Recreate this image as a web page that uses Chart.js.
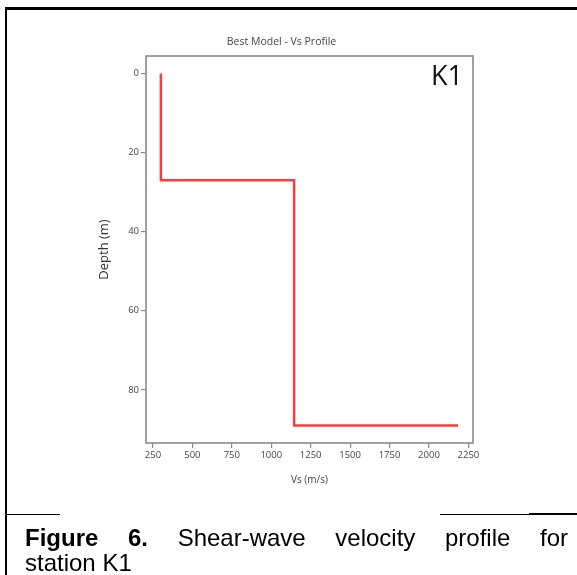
<!DOCTYPE html>
<html>
<head>
<meta charset="utf-8">
<script src="https://cdn.jsdelivr.net/npm/chart.js@4.4.1/dist/chart.umd.min.js"></script>
<style>
  html, body { margin:0; padding:0; background:#fff; }
  #page { position:relative; width:577px; height:575px; background:#fff; overflow:hidden; }
  #plot { position:absolute; left:0; top:0; }
  .rule { position:absolute; background:#000; }
  #k1 { position:absolute; left:431px; top:56px; font:27px "Open Sans", sans-serif; color:#111; }
  #caption { position:absolute; left:25px; top:525px; width:543px;
             font:24px "Liberation Sans", Arial, sans-serif; color:#000; line-height:25px; }
  #caption .l1 { text-align:justify; text-align-last:justify; white-space:nowrap; }
</style>
</head>
<body>
<div id="page">
  <canvas id="plot" width="577" height="500"></canvas>
  <div id="k1">K1</div>

  <!-- frame lines round the figure cell -->
  <div class="rule" style="left:5px;top:7px;width:572px;height:3px"></div>
  <div class="rule" style="left:5px;top:7px;width:2px;height:568px"></div>
  <div class="rule" style="left:5px;top:514px;width:55px;height:1px"></div>
  <div class="rule" style="left:440px;top:514px;width:89px;height:1px"></div>
  <div class="rule" style="left:529px;top:513px;width:48px;height:2px"></div>

  <div id="caption">
    <div class="l1"><b>Figure 6.</b> Shear-wave velocity profile for</div>
    <div>station K1</div>
  </div>
</div>

<script>
/* ── Data: best-fit Vs model, station K1 ── */
const vsProfile    = [300, 300, 1145, 1145, 2185];   // m/s
const depthProfile = [0, 27, 27, 89, 89];            // m
const xTicks = [250, 500, 750, 1000, 1250, 1500, 1750, 2000, 2250];
const yTicks = [0, 20, 40, 60, 80];

const AX = '#8a8a8a', TXT = '#444';
const FONT = '"Open Sans", "DejaVu Sans", sans-serif';

/* box round the axes (matplotlib style) */
const framePlugin = {
  id:'frame',
  afterDraw(chart) {
    const {ctx, chartArea:a} = chart;
    ctx.save();
    ctx.strokeStyle = AX;
    ctx.lineWidth = 1.6;
    ctx.strokeRect(a.left, a.top, a.right - a.left, a.bottom - a.top);
    ctx.restore();
  }
};

new Chart(document.getElementById('plot'), {
  type:'scatter',
  data:{
    datasets:[{
      data: vsProfile.map((v,i)=>({x:v, y:depthProfile[i]})),
      showLine:true,
      borderColor:'#ff3b3b',
      borderWidth:2.5,
      pointRadius:0,
      tension:0
    }]
  },
  options:{
    responsive:false,
    animation:false,
    layout:{ padding:{ left:90, right:104, top:28, bottom:0 } },
    plugins:{
      legend:{ display:false },
      tooltip:{ enabled:false },
      title:{ display:true, text:'Best Model - Vs Profile', color:TXT,
              font:{ family:FONT, size:10.5, weight:'normal' }, padding:{ top:8, bottom:7.4 } }
    },
    scales:{
      x:{
        type:'linear', min:205.75, max:2279.25,
        afterBuildTicks: s => { s.ticks = xTicks.map(v=>({value:v})); },
        afterFit: s => { s.height = 57; },
        border:{ display:false },
        grid:{ drawOnChartArea:false, drawTicks:true, tickLength:5, color:AX, lineWidth:1.2 },
        ticks:{ color:TXT, font:{ family:FONT, size:9.5 }, padding:2, maxRotation:0, autoSkip:false,
                callback: v => String(v) },
        title:{ display:true, text:'Vs (m/s)', color:TXT, font:{ family:FONT, size:10 }, padding:{ top:0, bottom:14 } }
      },
      y:{
        type:'linear', reverse:true, min:-4.45, max:93.45,
        afterBuildTicks: s => { s.ticks = yTicks.map(v=>({value:v})); },
        afterFit: s => { s.width = 56; },
        border:{ display:false },
        grid:{ drawOnChartArea:false, drawTicks:true, tickLength:5, color:AX, lineWidth:1.2 },
        ticks:{ color:TXT, font:{ family:FONT, size:9.5 }, padding:2, autoSkip:false,
                callback: v => String(v) },
        title:{ display:true, text:'Depth (m)', color:'#333', font:{ family:FONT, size:13 }, padding:{ top:6, bottom:0 } }
      }
    }
  },
  plugins:[framePlugin]
});
</script>
</body>
</html>
